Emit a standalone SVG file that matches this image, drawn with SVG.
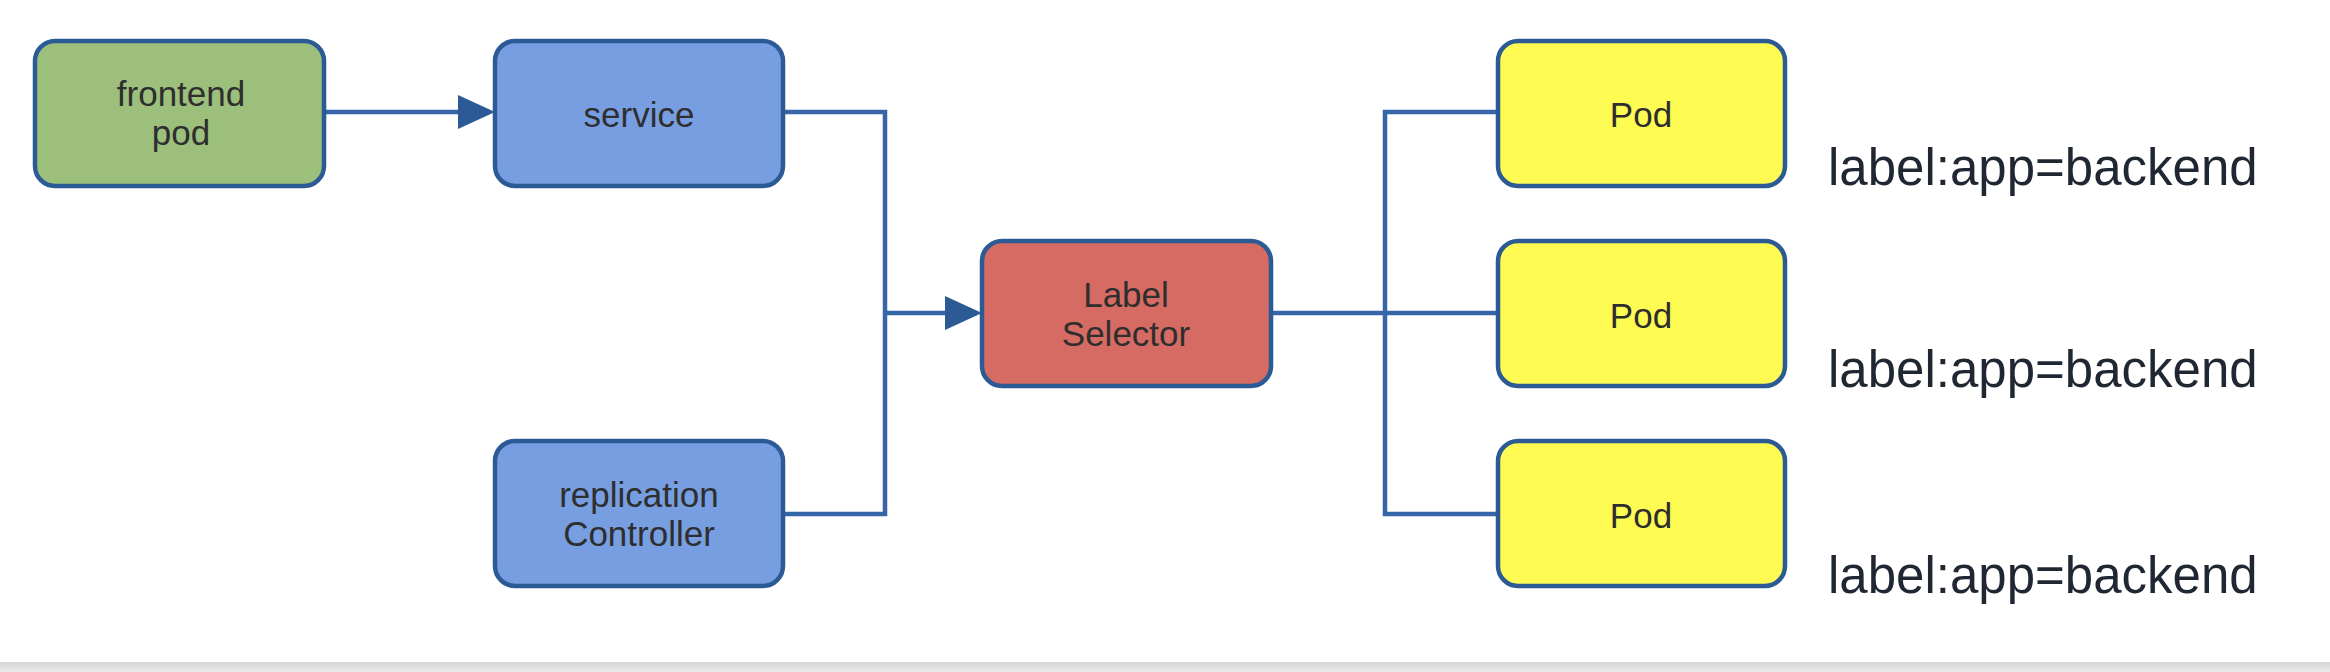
<svg xmlns="http://www.w3.org/2000/svg" width="2330" height="672" viewBox="0 0 2330 672">
<defs>
<style>
.node{stroke:#2c5a94;stroke-width:4.5}
.t{font-family:"Liberation Sans",Arial,sans-serif;font-size:35px;fill:#2e2e2e;text-anchor:middle}
.lbl{font-family:"Liberation Sans",Arial,sans-serif;font-size:51px;fill:#1f2733}
.c{fill:none;stroke:#3566a8;stroke-width:4.5}
</style>
<linearGradient id="band" x1="0" y1="0" x2="0" y2="1">
<stop offset="0" stop-color="#d6d6d6"/>
<stop offset="1" stop-color="#ebebeb"/>
</linearGradient>
</defs>
<rect width="2330" height="672" fill="#ffffff"/>
<rect x="0" y="662" width="2330" height="10" fill="url(#band)"/>
<g id="connectors">
<path class="c" d="M324,112 H462"/>
<path d="M458,95 L495,112 L458,129 z" fill="#2c5a94"/>
<path class="c" d="M783,112 H885 V514 H783"/>
<path class="c" d="M885,313 H950" stroke-width="5"/>
<path d="M945,296 L982,313 L945,330 z" fill="#2c5a94"/>
<path class="c" d="M1271,313 H1498" stroke-width="5.5"/>
<path class="c" d="M1498,112 H1385 V514 H1498"/>
</g>
<g id="frontend-pod">
<rect class="node" x="35" y="41" width="289" height="145" rx="20" fill="#9cc07c"/>
<text class="t" x="181" y="106">frontend</text>
<text class="t" x="181" y="145">pod</text>
</g>
<g id="service">
<rect class="node" x="495" y="41" width="288" height="145" rx="20" fill="#789ee2"/>
<text class="t" x="639" y="127">service</text>
</g>
<g id="replication-controller">
<rect class="node" x="495" y="441" width="288" height="145" rx="20" fill="#789ee2"/>
<text class="t" x="639" y="507">replication</text>
<text class="t" x="639" y="546">Controller</text>
</g>
<g id="label-selector">
<rect class="node" x="982" y="241" width="289" height="145" rx="20" fill="#d66b63"/>
<text class="t" x="1126" y="307">Label</text>
<text class="t" x="1126" y="346">Selector</text>
</g>
<g id="pod-1">
<rect class="node" x="1498" y="41" width="287" height="145" rx="20" fill="#fefb52"/>
<text class="t" x="1641" y="127">Pod</text>
</g>
<g id="pod-2">
<rect class="node" x="1498" y="241" width="287" height="145" rx="20" fill="#fefb52"/>
<text class="t" x="1641" y="328">Pod</text>
</g>
<g id="pod-3">
<rect class="node" x="1498" y="441" width="287" height="145" rx="20" fill="#fefb52"/>
<text class="t" x="1641" y="528">Pod</text>
</g>
<g id="labels">
<text class="lbl" x="1828" y="185">label:app=backend</text>
<text class="lbl" x="1828" y="387">label:app=backend</text>
<text class="lbl" x="1828" y="593">label:app=backend</text>
</g>
</svg>
